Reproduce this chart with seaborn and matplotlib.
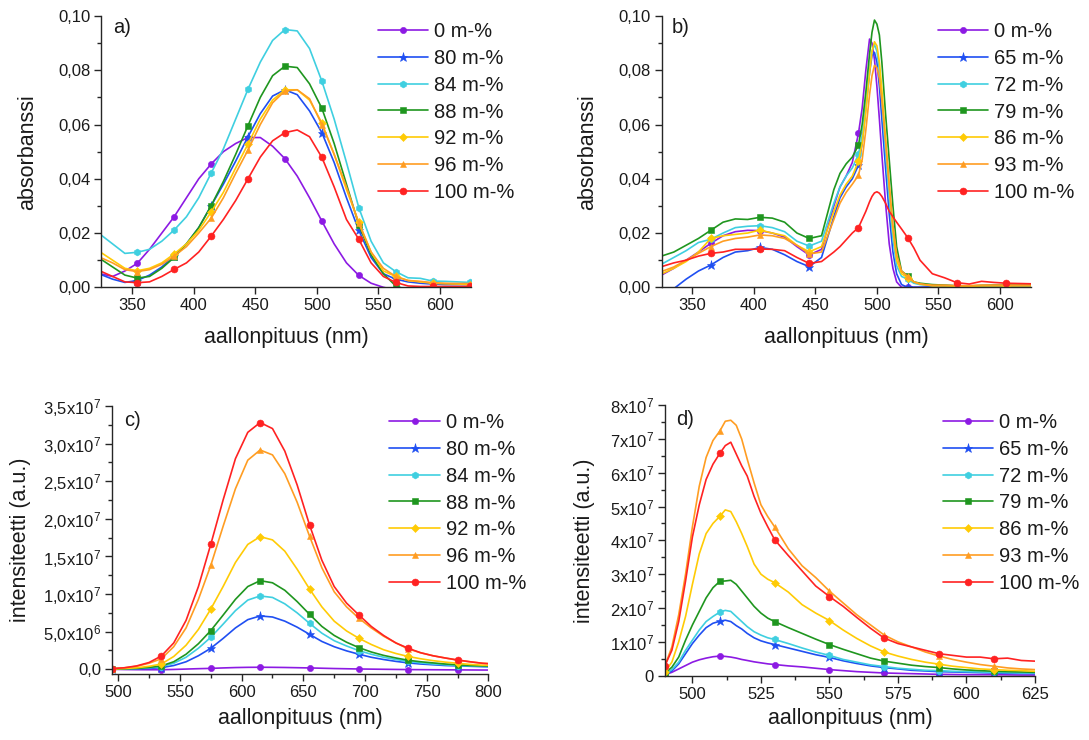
import numpy as np
import matplotlib
matplotlib.use("Agg")
import matplotlib.pyplot as plt
import seaborn as sns
from matplotlib.ticker import MultipleLocator, FixedLocator, FixedFormatter

# ---------------- data ----------------
# panel a) absorbance, wavelength (nm)
xa = [324, 334, 344, 354, 364, 374, 384, 394, 404, 414, 424, 434, 444, 454, 464, 474,
      484, 494, 504, 514, 524, 534, 544, 554, 564, 574, 584, 594, 604, 614, 624]
a_0 = [0.005, 0.004, 0.006, 0.0088, 0.014, 0.020, 0.026, 0.033, 0.040, 0.0454, 0.050, 0.053, 0.0552, 0.0552, 0.052, 0.0474,
       0.041, 0.033, 0.0244, 0.016, 0.009, 0.0044, 0.0015, 0.0, -0.001, -0.002, -0.002, -0.002, -0.002, -0.002, -0.002]
a_80 = [0.0048, 0.003, 0.0018, 0.0025, 0.0045, 0.0075, 0.0115, 0.016, 0.022, 0.030, 0.038, 0.0465, 0.0555, 0.064, 0.0705, 0.0728,
        0.071, 0.065, 0.057, 0.046, 0.033, 0.021, 0.011, 0.005, 0.003, 0.002, 0.0015, 0.0012, 0.001, 0.001, 0.001]
a_84 = [0.0195, 0.016, 0.0125, 0.0129, 0.014, 0.017, 0.0211, 0.026, 0.033, 0.042, 0.051, 0.062, 0.073, 0.083, 0.091, 0.095,
        0.0945, 0.088, 0.076, 0.062, 0.046, 0.0294, 0.017, 0.009, 0.0058, 0.0035, 0.0033, 0.0023, 0.0022, 0.002, 0.0018]
a_88 = [0.0105, 0.0075, 0.0045, 0.0034, 0.004, 0.007, 0.011, 0.016, 0.022, 0.030, 0.039, 0.049, 0.0596, 0.070, 0.078, 0.0815,
        0.081, 0.075, 0.066, 0.053, 0.038, 0.023, 0.012, 0.005, 0.0005, -0.001, -0.001, -0.001, -0.001, -0.001, -0.001]
a_92 = [0.013, 0.010, 0.007, 0.0061, 0.007, 0.009, 0.0123, 0.016, 0.021, 0.0277, 0.035, 0.044, 0.0528, 0.062, 0.069, 0.0728,
        0.0728, 0.069, 0.0606, 0.049, 0.036, 0.024, 0.013, 0.006, 0.004, 0.0025, 0.002, 0.0015, 0.0013, 0.0012, 0.001]
a_96 = [0.011, 0.009, 0.0065, 0.0058, 0.0065, 0.0085, 0.0115, 0.015, 0.020, 0.0254, 0.033, 0.042, 0.0506, 0.060, 0.068, 0.0724,
        0.0728, 0.0695, 0.060, 0.049, 0.037, 0.0236, 0.013, 0.007, 0.004, 0.0025, 0.0022, 0.0017, 0.0015, 0.0014, 0.0014]
a_100 = [0.006, 0.004, 0.002, 0.0017, 0.002, 0.004, 0.0066, 0.009, 0.013, 0.0188, 0.025, 0.032, 0.040, 0.048, 0.054, 0.057,
         0.058, 0.0555, 0.0479, 0.037, 0.025, 0.0177, 0.009, 0.004, 0.0018, 0.0005, 0.0003, 0.0003, 0.0003, 0.0003, 0.0003]
a_marks = [3, 6, 9, 12, 15, 18, 21, 24, 27, 30]
a_labels = ["0 m-%", "80 m-%", "84 m-%", "88 m-%", "92 m-%", "96 m-%", "100 m-%"]

# panel b) absorbance
xb = [325, 335, 345, 355, 365, 375, 385, 395, 405, 415, 425, 435, 445, 455, 465, 470, 475, 480, 485,
      488, 491, 494, 496, 498, 500, 502, 504, 507, 510, 513, 516, 520, 525, 530, 535,
      545, 555, 565, 575, 585, 595, 605, 615, 625]
b_0 = [0.0045, 0.007, 0.010, 0.013, 0.0162, 0.019, 0.0205, 0.021, 0.0209, 0.020, 0.0185, 0.015, 0.0119,
       0.014, 0.030, 0.037, 0.041, 0.046, 0.0567, 0.066, 0.080, 0.0915, 0.090, 0.084, 0.074, 0.062, 0.049,
       0.031, 0.016, 0.007, 0.002, 0.0, 0.0, 0.0, 0.0, 0.0, 0.0, 0.0, 0.0, 0.0003, 0.0003, 0.0003, 0.0003, 0.0003]
b_65 = [-0.003, -0.0005, 0.003, 0.006, 0.0082, 0.011, 0.013, 0.0135, 0.0147, 0.014, 0.012, 0.0095, 0.0076,
        0.011, 0.026, 0.033, 0.037, 0.040, 0.045, 0.053, 0.066, 0.079, 0.0855, 0.0866, 0.083, 0.074, 0.062,
        0.044, 0.027, 0.013, 0.005, 0.001, 0.0, 0.0, 0.0, 0.0002, 0.0002, 0.0002, 0.0002, 0.0003, 0.0003, 0.0003, 0.0003, 0.0003]
b_72 = [0.0085, 0.011, 0.0135, 0.0165, 0.0177, 0.020, 0.022, 0.0225, 0.0227, 0.022, 0.0205, 0.017, 0.0152,
        0.017, 0.031, 0.037, 0.041, 0.044, 0.049, 0.056, 0.068, 0.081, 0.087, 0.0895, 0.087, 0.080, 0.069,
        0.050, 0.033, 0.018, 0.008, 0.004, 0.003, 0.0015, 0.001, 0.0007, 0.0007, 0.0006, 0.0005, 0.0006, 0.0006, 0.0006, 0.0006, 0.0006]
b_79 = [0.0115, 0.013, 0.0155, 0.018, 0.021, 0.024, 0.0252, 0.025, 0.0258, 0.0255, 0.024, 0.020, 0.018,
        0.019, 0.036, 0.042, 0.0455, 0.048, 0.0524, 0.060, 0.072, 0.086, 0.094, 0.0985, 0.097, 0.093, 0.083,
        0.064, 0.047, 0.030, 0.015, 0.006, 0.0042, 0.002, 0.0015, 0.001, 0.0008, 0.0005, 0.0005, 0.0007, 0.0008, 0.0008, 0.0008, 0.0008]
b_86 = [0.0049, 0.007, 0.0095, 0.013, 0.018, 0.019, 0.0195, 0.020, 0.0211, 0.020, 0.019, 0.0155, 0.0131,
        0.015, 0.028, 0.034, 0.038, 0.041, 0.0465, 0.053, 0.065, 0.079, 0.087, 0.0905, 0.089, 0.083, 0.073,
        0.055, 0.037, 0.021, 0.010, 0.005, 0.0035, 0.002, 0.0012, 0.0005, 0.0005, 0.0004, 0.0004, 0.0005, 0.0005, 0.0005, 0.0005, 0.0005]
b_93 = [0.0058, 0.0075, 0.010, 0.0125, 0.015, 0.017, 0.018, 0.0185, 0.0193, 0.019, 0.018, 0.0155, 0.0123,
        0.013, 0.025, 0.031, 0.035, 0.038, 0.0413, 0.047, 0.058, 0.071, 0.078, 0.0818, 0.081, 0.077, 0.069,
        0.054, 0.038, 0.023, 0.012, 0.006, 0.004, 0.002, 0.0012, 0.0008, 0.0008, 0.0006, 0.0006, 0.0008, 0.0008, 0.0008, 0.0008, 0.0008]
b_100 = [0.0076, 0.009, 0.010, 0.0115, 0.0125, 0.013, 0.014, 0.014, 0.0141, 0.014, 0.0135, 0.011, 0.0088,
         0.0095, 0.013, 0.015, 0.0175, 0.020, 0.022, 0.025, 0.028, 0.0315, 0.0335, 0.0348, 0.0352, 0.0347, 0.0335,
         0.031, 0.028, 0.026, 0.024, 0.0215, 0.0183, 0.0145, 0.010, 0.005, 0.0035, 0.0017, 0.0012, 0.0022, 0.0018, 0.0015, 0.0014, 0.0013]
b_marks = [4, 8, 12, 18, 32, 37, 41]
b_labels = ["0 m-%", "65 m-%", "72 m-%", "79 m-%", "86 m-%", "93 m-%", "100 m-%"]

# panel c) intensity, units of 1e7
xc = [495, 505, 515, 525, 535, 545, 555, 565, 575, 585, 595, 605, 615, 625, 635, 645,
      655, 665, 675, 685, 695, 705, 715, 725, 735, 745, 755, 765, 775, 785, 795, 805]
c_0 = [0.0, -0.003, -0.005, -0.006, -0.006, -0.002, 0.003, 0.008, 0.012, 0.018, 0.023, 0.026, 0.027, 0.026, 0.024, 0.021,
       0.018, 0.014, 0.01, 0.007, 0.004, 0.002, 0.0, -0.002, -0.004, -0.005, -0.006, -0.007, -0.008, -0.009, -0.01, -0.01]
c_80 = [0.001, 0.003, 0.006, 0.012, 0.022, 0.05, 0.1, 0.18, 0.279, 0.41, 0.55, 0.66, 0.709, 0.695, 0.64, 0.56,
        0.465, 0.37, 0.3, 0.245, 0.2, 0.16, 0.13, 0.105, 0.085, 0.07, 0.06, 0.05, 0.045, 0.04, 0.035, 0.03]
c_84 = [0.002, 0.005, 0.01, 0.02, 0.035, 0.08, 0.16, 0.28, 0.425, 0.6, 0.78, 0.92, 0.975, 0.955, 0.87, 0.75,
        0.611, 0.48, 0.38, 0.31, 0.248, 0.2, 0.16, 0.13, 0.105, 0.085, 0.07, 0.06, 0.05, 0.045, 0.04, 0.035]
c_88 = [0.003, 0.006, 0.012, 0.025, 0.045, 0.1, 0.2, 0.34, 0.514, 0.72, 0.93, 1.1, 1.178, 1.15, 1.05, 0.9,
        0.731, 0.57, 0.45, 0.36, 0.288, 0.23, 0.185, 0.15, 0.12, 0.1, 0.085, 0.07, 0.06, 0.05, 0.045, 0.04]
c_92 = [0.005, 0.01, 0.02, 0.04, 0.07, 0.17, 0.32, 0.53, 0.80, 1.1, 1.42, 1.66, 1.763, 1.72, 1.57, 1.33,
        1.068, 0.83, 0.64, 0.51, 0.412, 0.33, 0.26, 0.21, 0.17, 0.14, 0.115, 0.095, 0.08, 0.065, 0.055, 0.05]
c_96 = [0.01, 0.02, 0.04, 0.08, 0.14, 0.3, 0.55, 0.93, 1.38, 1.9, 2.4, 2.78, 2.915, 2.85, 2.6, 2.22,
        1.77, 1.35, 1.03, 0.83, 0.678, 0.55, 0.44, 0.35, 0.27, 0.22, 0.18, 0.15, 0.12, 0.1, 0.08, 0.07]
c_100 = [0.01, 0.02, 0.045, 0.09, 0.177, 0.35, 0.65, 1.1, 1.66, 2.25, 2.8, 3.15, 3.28, 3.2, 2.9, 2.45,
         1.92, 1.45, 1.1, 0.88, 0.722, 0.57, 0.45, 0.35, 0.279, 0.22, 0.18, 0.15, 0.124, 0.1, 0.08, 0.07]
c_marks = [0, 4, 8, 12, 16, 20, 24, 28]

# panel d) intensity, units of 1e7
xd = [490, 492.5, 495, 497.5, 500, 502.5, 505, 507.5, 510, 512, 514, 516, 518, 520, 522.5, 525, 527.5, 530,
      535, 540, 545, 550, 555, 560, 565, 570, 575, 580, 585, 590, 595, 600, 605, 610, 615, 620, 625]
d_0 = [0.03, 0.1, 0.2, 0.3, 0.4, 0.47, 0.52, 0.56, 0.58, 0.57, 0.55, 0.52, 0.48, 0.45, 0.41, 0.38, 0.35, 0.33,
       0.29, 0.26, 0.22, 0.18, 0.15, 0.12, 0.1, 0.08, 0.07, 0.06, 0.05, 0.04, 0.035, 0.03, 0.03, 0.03, 0.025, 0.02, 0.02]
d_65 = [0.04, 0.14, 0.35, 0.65, 0.95, 1.2, 1.42, 1.55, 1.61, 1.64, 1.6, 1.48, 1.38, 1.25, 1.12, 1.03, 0.97, 0.92,
        0.82, 0.72, 0.62, 0.54, 0.44, 0.36, 0.29, 0.24, 0.2, 0.16, 0.14, 0.12, 0.11, 0.1, 0.09, 0.08, 0.07, 0.065, 0.06]
d_72 = [0.05, 0.18, 0.4, 0.75, 1.05, 1.35, 1.6, 1.75, 1.88, 1.93, 1.9, 1.75, 1.6, 1.45, 1.3, 1.2, 1.12, 1.07,
        0.95, 0.82, 0.7, 0.6, 0.48, 0.4, 0.32, 0.27, 0.22, 0.19, 0.16, 0.15, 0.13, 0.12, 0.11, 0.1, 0.09, 0.08, 0.08]
d_79 = [0.08, 0.25, 0.55, 1.05, 1.5, 1.9, 2.3, 2.6, 2.79, 2.8, 2.82, 2.7, 2.5, 2.3, 2.05, 1.85, 1.7, 1.6,
        1.42, 1.25, 1.08, 0.92, 0.78, 0.65, 0.52, 0.43, 0.37, 0.31, 0.27, 0.24, 0.2, 0.17, 0.15, 0.13, 0.12, 0.11, 0.1]
d_86 = [0.12, 0.4, 1.0, 1.75, 2.7, 3.6, 4.2, 4.5, 4.71, 4.9, 4.85, 4.55, 4.2, 3.82, 3.3, 3.0, 2.85, 2.75,
        2.47, 2.1, 1.85, 1.63, 1.35, 1.1, 0.88, 0.7, 0.58, 0.48, 0.4, 0.34, 0.28, 0.24, 0.2, 0.18, 0.16, 0.15, 0.13]
d_93 = [0.3, 0.85, 1.8, 3.0, 4.4, 5.6, 6.45, 6.95, 7.23, 7.52, 7.55, 7.4, 6.99, 6.4, 5.7, 5.05, 4.7, 4.4,
        3.75, 3.25, 2.9, 2.5, 2.15, 1.8, 1.5, 1.2, 1.0, 0.85, 0.7, 0.58, 0.48, 0.4, 0.33, 0.28, 0.23, 0.2, 0.18]
d_100 = [0.3, 0.75, 1.6, 2.8, 4.1, 5.05, 5.8, 6.25, 6.57, 6.8, 6.9, 6.55, 6.2, 5.9, 5.3, 4.8, 4.4, 4.02,
         3.55, 3.1, 2.65, 2.34, 2.05, 1.72, 1.4, 1.11, 0.95, 0.85, 0.75, 0.65, 0.6, 0.55, 0.55, 0.5, 0.52, 0.45, 0.43]
d_marks = [0, 8, 17, 21, 25, 29, 33]

# tick labels
ab_yticks = [0.0, 0.02, 0.04, 0.06, 0.08, 0.10]
ab_yticklabels = ["0,00", "0,02", "0,04", "0,06", "0,08", "0,10"]
c_yticks = [0, 5e6, 1e7, 1.5e7, 2e7, 2.5e7, 3e7, 3.5e7]
c_yticklabels = ["0,0", r"5,0x10$^{6}$", r"1,0x10$^{7}$", r"1,5x10$^{7}$", r"2,0x10$^{7}$",
                 r"2,5x10$^{7}$", r"3,0x10$^{7}$", r"3,5x10$^{7}$"]
d_yticks = [0, 1e7, 2e7, 3e7, 4e7, 5e7, 6e7, 7e7, 8e7]
d_yticklabels = ["0"] + [r"%dx10$^{7}$" % k for k in range(1, 9)]

# ---------------- style ----------------
colors = ["#8c1ae3", "#1f4ff2", "#3fcfe0", "#1f961f", "#ffcb05", "#ff9d22", "#ff2222"]
markers = ["o", "*", "h", "s", "D", "^", "o"]
msizes = [4.5, 6.5, 5.0, 4.5, 4.0, 5.0, 5.0]

sns.set_theme(style="ticks")
plt.rcParams["font.family"] = ["Liberation Sans", "DejaVu Sans"]
plt.rcParams["mathtext.fontset"] = "custom"
plt.rcParams["mathtext.rm"] = "Liberation Sans"
plt.rcParams["mathtext.it"] = "Liberation Sans"
plt.rcParams["axes.unicode_minus"] = False

W, H = 1089, 740
fig = plt.figure(figsize=(W / 100, H / 100), dpi=100)


def px_axes(l, r, t, b):
    return fig.add_axes([l / W, (H - b) / H, (r - l) / W, (b - t) / H])


ax_a = px_axes(101.5, 470.8, 16, 287.3)
ax_b = px_axes(661.5, 1030.8, 16, 287.3)
ax_c = px_axes(112, 488.5, 406, 673.5)
ax_d = px_axes(665, 1035, 405, 675.7)

EDGE = "#262626"
TXT = "#1a1a1a"


def draw(ax, x, series, labels, marks, scale=1.0):
    for y, lab, col, mk, ms in zip(series, labels, colors, markers, msizes):
        sns.lineplot(x=x, y=np.asarray(y) * scale, ax=ax, color=col, marker=mk,
                     markersize=ms, markevery=marks, linewidth=1.2, label=lab,
                     estimator=None, sort=False, markeredgecolor=col,
                     markeredgewidth=0.4)


draw(ax_a, xa, [a_0, a_80, a_84, a_88, a_92, a_96, a_100], a_labels, a_marks)
draw(ax_b, xb, [b_0, b_65, b_72, b_79, b_86, b_93, b_100], b_labels, b_marks)
draw(ax_c, xc, [c_0, c_80, c_84, c_88, c_92, c_96, c_100], a_labels, c_marks, 1e7)
draw(ax_d, xd, [d_0, d_65, d_72, d_79, d_86, d_93, d_100], b_labels, d_marks, 1e7)

LABEL_FS = 15.5

for ax in (ax_a, ax_b):
    ax.set_xlim(325, 625)
    ax.set_ylim(0, 0.10)
    ax.xaxis.set_major_locator(MultipleLocator(50))
    ax.yaxis.set_major_locator(FixedLocator(ab_yticks))
    ax.yaxis.set_major_formatter(FixedFormatter(ab_yticklabels))
    ax.yaxis.set_minor_locator(MultipleLocator(0.01))
    ax.set_ylabel("absorbanssi", fontsize=LABEL_FS)
    ax.yaxis.set_label_coords(-0.172, 0.5)
    ax.xaxis.set_label_coords(0.5, -0.148)

ax_c.set_xlim(495, 800)
ax_c.set_ylim(-0.056e7, 3.5e7)
ax_c.xaxis.set_major_locator(MultipleLocator(50))
ax_c.xaxis.set_minor_locator(MultipleLocator(25))
ax_c.yaxis.set_major_locator(FixedLocator(c_yticks))
ax_c.yaxis.set_major_formatter(FixedFormatter(c_yticklabels))
ax_c.yaxis.set_minor_locator(MultipleLocator(2.5e6))
ax_c.set_ylabel("intensiteetti (a.u.)", fontsize=LABEL_FS)
ax_c.yaxis.set_label_coords(-0.215, 0.5)
ax_c.xaxis.set_label_coords(0.5, -0.128)

ax_d.set_xlim(490, 625)
ax_d.set_ylim(0, 8e7)
ax_d.xaxis.set_major_locator(MultipleLocator(25))
ax_d.xaxis.set_minor_locator(MultipleLocator(12.5))
ax_d.yaxis.set_major_locator(FixedLocator(d_yticks))
ax_d.yaxis.set_major_formatter(FixedFormatter(d_yticklabels))
ax_d.yaxis.set_minor_locator(MultipleLocator(5e6))
ax_d.set_ylabel("intensiteetti (a.u.)", fontsize=LABEL_FS)
ax_d.yaxis.set_label_coords(-0.19, 0.5)
ax_d.xaxis.set_label_coords(0.5, -0.12)

panel_info = [(ax_a, "a)", 0.031, 0.956, 0.749, 0.978),
              (ax_b, "b)", 0.028, 0.956, 0.749, 0.978),
              (ax_c, "c)", 0.032, 0.944, 0.737, 0.974),
              (ax_d, "d)", 0.030, 0.945, 0.750, 0.971)]

for ax, lab, lx, ly, gx, gy in panel_info:
    sns.despine(ax=ax)
    for s in ("left", "bottom"):
        ax.spines[s].set_color(EDGE)
        ax.spines[s].set_linewidth(1.0)
    ax.tick_params(which="major", direction="out", length=5, width=1.0,
                   color=EDGE, labelsize=12, labelcolor=TXT, pad=3)
    ax.tick_params(which="minor", direction="out", length=3, width=1.0, color=EDGE)
    ax.set_xlabel("aallonpituus (nm)", fontsize=LABEL_FS, color=TXT)
    ax.yaxis.label.set_color(TXT)
    ax.text(lx, ly, lab, transform=ax.transAxes, fontsize=14.5, ha="left",
            va="center", color=TXT)
    leg = ax.legend(loc="upper left", bbox_to_anchor=(gx, gy), frameon=False,
                    fontsize=14.5, handlelength=2.5, handletextpad=0.3,
                    borderpad=0, borderaxespad=0, labelspacing=0.39)
    for t in leg.get_texts():
        t.set_color(TXT)

fig.savefig("out.png", dpi=100)
